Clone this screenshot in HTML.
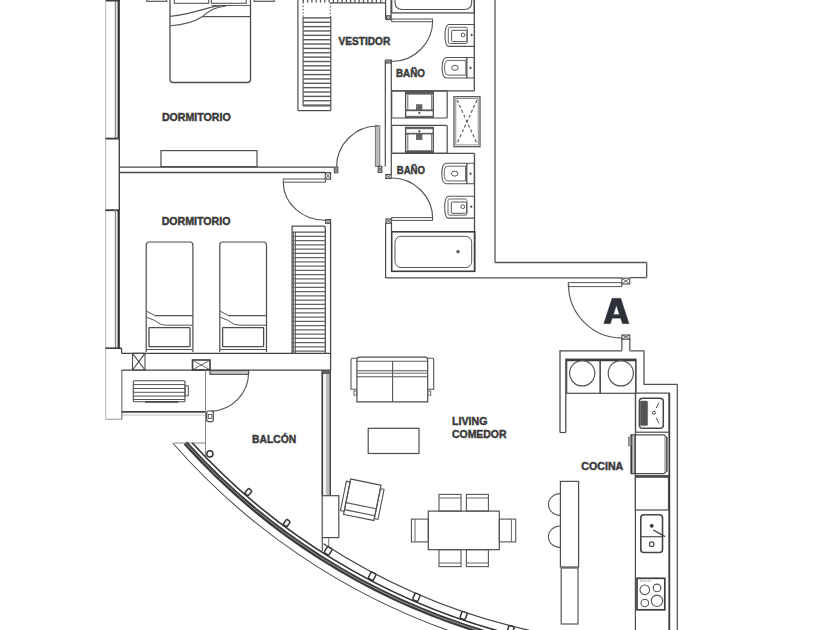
<!DOCTYPE html>
<html><head><meta charset="utf-8"><style>
html,body{margin:0;padding:0;background:#fff;}
body{width:840px;height:630px;overflow:hidden;}
svg{display:block;}
text{font-family:"Liberation Sans",sans-serif;font-weight:bold;}
</style></head><body>
<svg width="840" height="630" viewBox="0 0 840 630" stroke-linecap="butt">
<line x1="105.6" y1="0" x2="105.6" y2="419.3" stroke="#c2c2c2" stroke-width="1.2" />
<line x1="115.5" y1="0" x2="115.5" y2="138.5" stroke="#8a8a8a" stroke-width="1.4" />
<line x1="118.7" y1="0" x2="118.7" y2="138.5" stroke="#333" stroke-width="2.3" />
<line x1="105.6" y1="138.6" x2="119.5" y2="138.6" stroke="#3a3a3a" stroke-width="1.8" />
<line x1="106" y1="0.6" x2="119.8" y2="0.6" stroke="#3a3a3a" stroke-width="1.8" />
<line x1="119.3" y1="138.5" x2="119.3" y2="210" stroke="#444" stroke-width="1.4" />
<line x1="105.6" y1="210.2" x2="119.5" y2="210.2" stroke="#3a3a3a" stroke-width="1.8" />
<line x1="115.5" y1="210" x2="115.5" y2="348.2" stroke="#8a8a8a" stroke-width="1.4" />
<line x1="118.7" y1="210" x2="118.7" y2="348.2" stroke="#333" stroke-width="2.3" />
<line x1="105.6" y1="348.2" x2="121.6" y2="348.2" stroke="#3a3a3a" stroke-width="1.6" />
<line x1="121.6" y1="348.2" x2="121.6" y2="353.3" stroke="#444" stroke-width="1.2" />
<line x1="105.6" y1="419.3" x2="122" y2="419.3" stroke="#aaa" stroke-width="1.2" />
<line x1="121.8" y1="370" x2="121.8" y2="419.3" stroke="#777" stroke-width="1.2" />
<rect x="146.7" y="-3" width="20.0" height="4.3" rx="0" stroke="#555" stroke-width="1.2" fill="none" />
<rect x="254.2" y="-3" width="20.0" height="4.3" rx="0" stroke="#555" stroke-width="1.2" fill="none" />
<path d="M170,-2 L170,79.5 Q170,82.5 173,82.5 L247.5,82.5 Q250.5,82.5 250.5,79.5 L250.5,-2" stroke="#4d4d4d" stroke-width="1.3" fill="none" />
<rect x="174.2" y="-2" width="34.5" height="5.3" rx="0" stroke="#555" stroke-width="1.1" fill="none" />
<rect x="211.3" y="-2" width="34.9" height="5.3" rx="0" stroke="#555" stroke-width="1.1" fill="none" />
<line x1="211.7" y1="5.5" x2="250.5" y2="5.5" stroke="#666" stroke-width="1.0" />
<line x1="202.5" y1="16.7" x2="250.5" y2="16.7" stroke="#555" stroke-width="1.2" />
<path d="M170.5,16.4 C190,14.2 201,9.5 214,6.6 C220,5.6 226,5.4 233,5.5" stroke="#555" stroke-width="1.1" fill="none" />
<path d="M170.5,25.8 C187,24.6 195,21.5 202,16.8 C209,11 215,7 226,6" stroke="#555" stroke-width="1.1" fill="none" />
<rect x="161" y="150.6" width="96" height="16.1" rx="0" stroke="#4d4d4d" stroke-width="1.2" fill="none" />
<line x1="119" y1="167.2" x2="334.4" y2="167.2" stroke="#444" stroke-width="1.3" />
<line x1="119" y1="172.5" x2="325" y2="172.5" stroke="#444" stroke-width="1.3" />
<rect x="334.4" y="167.2" width="3.4" height="5.6" rx="0" stroke="#4a4a4a" stroke-width="1.1" fill="none" />
<line x1="334.4" y1="167.2" x2="337.8" y2="172.8" stroke="#555" stroke-width="0.9" />
<line x1="337.8" y1="167.2" x2="334.4" y2="172.8" stroke="#555" stroke-width="0.9" />
<rect x="325.3" y="172.6" width="5.3" height="6.6" rx="0" stroke="#4a4a4a" stroke-width="1.1" fill="none" />
<line x1="325.3" y1="172.6" x2="330.6" y2="179.2" stroke="#555" stroke-width="0.9" />
<line x1="330.6" y1="172.6" x2="325.3" y2="179.2" stroke="#555" stroke-width="0.9" />
<line x1="297.9" y1="-1" x2="297.9" y2="110.6" stroke="#4d4d4d" stroke-width="1.2" />
<line x1="297.9" y1="110.6" x2="330.8" y2="110.6" stroke="#4d4d4d" stroke-width="1.3" />
<line x1="330.8" y1="17" x2="330.8" y2="110.6" stroke="#4d4d4d" stroke-width="1.2" />
<line x1="303.1" y1="17" x2="303.1" y2="106" stroke="#555" stroke-width="1.2" />
<line x1="303.1" y1="106" x2="330.8" y2="106" stroke="#555" stroke-width="1.1" />
<line x1="303.3" y1="-1" x2="303.3" y2="2.6" stroke="#555" stroke-width="1.3" />
<line x1="307.6" y1="-1" x2="307.6" y2="2.6" stroke="#555" stroke-width="1.3" />
<line x1="311.90000000000003" y1="-1" x2="311.90000000000003" y2="2.6" stroke="#555" stroke-width="1.3" />
<line x1="316.20000000000005" y1="-1" x2="316.20000000000005" y2="2.6" stroke="#555" stroke-width="1.3" />
<line x1="320.50000000000006" y1="-1" x2="320.50000000000006" y2="2.6" stroke="#555" stroke-width="1.3" />
<line x1="324.80000000000007" y1="-1" x2="324.80000000000007" y2="2.6" stroke="#555" stroke-width="1.3" />
<line x1="329.1000000000001" y1="-1" x2="329.1000000000001" y2="2.6" stroke="#555" stroke-width="1.3" />
<line x1="333.4000000000001" y1="-1" x2="333.4000000000001" y2="2.6" stroke="#555" stroke-width="1.3" />
<line x1="337.7000000000001" y1="-1" x2="337.7000000000001" y2="2.6" stroke="#555" stroke-width="1.3" />
<line x1="342.0000000000001" y1="-1" x2="342.0000000000001" y2="2.6" stroke="#555" stroke-width="1.3" />
<line x1="346.3000000000001" y1="-1" x2="346.3000000000001" y2="2.6" stroke="#555" stroke-width="1.3" />
<line x1="350.60000000000014" y1="-1" x2="350.60000000000014" y2="2.6" stroke="#555" stroke-width="1.3" />
<line x1="354.90000000000015" y1="-1" x2="354.90000000000015" y2="2.6" stroke="#555" stroke-width="1.3" />
<line x1="359.20000000000016" y1="-1" x2="359.20000000000016" y2="2.6" stroke="#555" stroke-width="1.3" />
<line x1="363.50000000000017" y1="-1" x2="363.50000000000017" y2="2.6" stroke="#555" stroke-width="1.3" />
<line x1="367.8000000000002" y1="-1" x2="367.8000000000002" y2="2.6" stroke="#555" stroke-width="1.3" />
<line x1="372.1000000000002" y1="-1" x2="372.1000000000002" y2="2.6" stroke="#555" stroke-width="1.3" />
<line x1="376.4000000000002" y1="-1" x2="376.4000000000002" y2="2.6" stroke="#555" stroke-width="1.3" />
<line x1="380.7000000000002" y1="-1" x2="380.7000000000002" y2="2.6" stroke="#555" stroke-width="1.3" />
<line x1="330.2" y1="2.9" x2="385.5" y2="2.9" stroke="#444" stroke-width="1.4" />
<line x1="303.1" y1="17.9" x2="330.8" y2="17.9" stroke="#5a5a5a" stroke-width="1.4" />
<line x1="303.1" y1="22.259999999999998" x2="330.8" y2="22.259999999999998" stroke="#5a5a5a" stroke-width="1.4" />
<line x1="303.1" y1="26.619999999999997" x2="330.8" y2="26.619999999999997" stroke="#5a5a5a" stroke-width="1.4" />
<line x1="303.1" y1="30.979999999999997" x2="330.8" y2="30.979999999999997" stroke="#5a5a5a" stroke-width="1.4" />
<line x1="303.1" y1="35.339999999999996" x2="330.8" y2="35.339999999999996" stroke="#5a5a5a" stroke-width="1.4" />
<line x1="303.1" y1="39.699999999999996" x2="330.8" y2="39.699999999999996" stroke="#5a5a5a" stroke-width="1.4" />
<line x1="303.1" y1="44.059999999999995" x2="330.8" y2="44.059999999999995" stroke="#5a5a5a" stroke-width="1.4" />
<line x1="303.1" y1="48.419999999999995" x2="330.8" y2="48.419999999999995" stroke="#5a5a5a" stroke-width="1.4" />
<line x1="303.1" y1="52.779999999999994" x2="330.8" y2="52.779999999999994" stroke="#5a5a5a" stroke-width="1.4" />
<line x1="303.1" y1="57.13999999999999" x2="330.8" y2="57.13999999999999" stroke="#5a5a5a" stroke-width="1.4" />
<line x1="303.1" y1="61.49999999999999" x2="330.8" y2="61.49999999999999" stroke="#5a5a5a" stroke-width="1.4" />
<line x1="303.1" y1="65.86" x2="330.8" y2="65.86" stroke="#5a5a5a" stroke-width="1.4" />
<line x1="303.1" y1="70.22" x2="330.8" y2="70.22" stroke="#5a5a5a" stroke-width="1.4" />
<line x1="303.1" y1="74.58" x2="330.8" y2="74.58" stroke="#5a5a5a" stroke-width="1.4" />
<line x1="303.1" y1="78.94" x2="330.8" y2="78.94" stroke="#5a5a5a" stroke-width="1.4" />
<line x1="303.1" y1="83.3" x2="330.8" y2="83.3" stroke="#5a5a5a" stroke-width="1.4" />
<line x1="303.1" y1="87.66" x2="330.8" y2="87.66" stroke="#5a5a5a" stroke-width="1.4" />
<line x1="303.1" y1="92.02" x2="330.8" y2="92.02" stroke="#5a5a5a" stroke-width="1.4" />
<line x1="303.1" y1="96.38" x2="330.8" y2="96.38" stroke="#5a5a5a" stroke-width="1.4" />
<line x1="303.1" y1="100.74" x2="330.8" y2="100.74" stroke="#5a5a5a" stroke-width="1.4" />
<line x1="303.1" y1="105.1" x2="330.8" y2="105.1" stroke="#5a5a5a" stroke-width="1.4" />
<line x1="303.1" y1="-1" x2="303.1" y2="17" stroke="#555" stroke-width="1.2" stroke-dasharray="1.3,2"/>
<line x1="330.4" y1="2.9" x2="330.4" y2="17" stroke="#555" stroke-width="1.2" stroke-dasharray="1.3,2"/>
<line x1="385.6" y1="-1" x2="385.6" y2="19.6" stroke="#4d4d4d" stroke-width="1.2" />
<line x1="391" y1="-1" x2="391" y2="19.6" stroke="#4d4d4d" stroke-width="1.2" />
<rect x="386.3" y="15.8" width="4.5" height="3.8" rx="0" stroke="#4a4a4a" stroke-width="1.1" fill="none" />
<line x1="386.3" y1="15.8" x2="390.8" y2="19.6" stroke="#555" stroke-width="0.9" />
<line x1="390.8" y1="15.8" x2="386.3" y2="19.6" stroke="#555" stroke-width="0.9" />
<rect x="391.7" y="19" width="40.8" height="2.7" rx="0" stroke="#555" stroke-width="1.0" fill="none" />
<path d="M432.70,20.50 A41,41 0 0 1 391.70,61.50" stroke="#555" stroke-width="1.15" fill="none" />
<line x1="385.3" y1="60" x2="385.3" y2="166.5" stroke="#4d4d4d" stroke-width="1.2" />
<line x1="391.3" y1="60" x2="391.3" y2="175" stroke="#4d4d4d" stroke-width="1.2" />
<rect x="386" y="60" width="5" height="3" rx="0" stroke="#4a4a4a" stroke-width="1.1" fill="none" />
<line x1="386" y1="60" x2="391" y2="63" stroke="#555" stroke-width="0.9" />
<line x1="391" y1="60" x2="386" y2="63" stroke="#555" stroke-width="0.9" />
<rect x="385.8" y="174.5" width="5.4" height="4.0" rx="0" stroke="#4a4a4a" stroke-width="1.1" fill="none" />
<line x1="385.8" y1="174.5" x2="391.2" y2="178.5" stroke="#555" stroke-width="0.9" />
<line x1="391.2" y1="174.5" x2="385.8" y2="178.5" stroke="#555" stroke-width="0.9" />
<rect x="375.4" y="125.7" width="4.4" height="40.7" rx="0" stroke="#777" stroke-width="1.0" fill="#bbb" />
<path d="M336.60,167.00 A41,41 0 0 1 377.60,126.00" stroke="#555" stroke-width="1.15" fill="none" />
<rect x="378.2" y="166.4" width="3.6" height="6.0" rx="0" stroke="#4a4a4a" stroke-width="1.1" fill="none" />
<line x1="378.2" y1="166.4" x2="381.8" y2="172.4" stroke="#555" stroke-width="0.9" />
<line x1="381.8" y1="166.4" x2="378.2" y2="172.4" stroke="#555" stroke-width="0.9" />
<rect x="391.7" y="-3" width="82.6" height="15.9" rx="0" stroke="#4d4d4d" stroke-width="1.3" fill="none" />
<path d="M395,-2 L395,2 Q395,9.5 402.5,9.5 L464.2,9.5 Q471.7,9.5 471.7,2 L471.7,-2" stroke="#555" stroke-width="1.1" fill="none" />
<line x1="474.3" y1="-1" x2="474.3" y2="90.8" stroke="#4d4d4d" stroke-width="1.3" />
<line x1="391.7" y1="90.8" x2="474.3" y2="90.8" stroke="#4d4d4d" stroke-width="1.3" />
<line x1="495" y1="-1" x2="495" y2="262.5" stroke="#555" stroke-width="1.3" />
<path d="M448.5,24.5 L474.5,24.5 L474.5,46.4 L448.5,46.4 Q445,45.4 445,35.45 Q445,25.5 448.5,24.5 Z" stroke="#555" stroke-width="1.1" fill="none" />
<rect x="448.3" y="27.3" width="19.0" height="16.2" rx="1.5" stroke="#666" stroke-width="1.0" fill="none" />
<rect x="451.6" y="30.3" width="15.3" height="11.3" rx="1" stroke="#555" stroke-width="1.0" fill="none" />
<circle cx="463.1" cy="35.0" r="1.9" stroke="#555" stroke-width="1.0" fill="none"/>
<circle cx="471.6" cy="35.0" r="0.8" stroke="#333" stroke-width="0.6" fill="#333"/>
<path d="M446.6,57.5 L466.7,57.5 L466.7,78.0 L446.6,78.0 Q442.1,77.5 442.1,67.75 Q442.1,58.0 446.6,57.5 Z" stroke="#555" stroke-width="1.1" fill="none" />
<rect x="466.7" y="57.5" width="7.6" height="20.5" rx="1.2" stroke="#555" stroke-width="1.1" fill="none" />
<path d="M447.6,60.4 L465.90000000000003,60.4 L465.90000000000003,75.1 L447.6,75.1 Q444.5,74.5 444.5,67.75 Q444.5,61.0 447.6,60.4 Z" stroke="#666" stroke-width="1.0" fill="none" />
<ellipse cx="455.0" cy="67.8" rx="3.3" ry="2.5" stroke="#555" stroke-width="1.0" fill="none"/>
<circle cx="470.5" cy="67.9" r="0.8" stroke="#333" stroke-width="0.6" fill="#333"/>
<rect x="391.7" y="90.8" width="55.5" height="27.2" rx="1" stroke="#4d4d4d" stroke-width="1.2" fill="none" />
<rect x="405.6" y="91.9" width="27.7" height="25.5" rx="0" stroke="#4d4d4d" stroke-width="1.3" fill="none" />
<line x1="405.6" y1="93" x2="433.3" y2="93" stroke="#555" stroke-width="2.2" />
<rect x="407.8" y="94.1" width="23.9" height="16.1" rx="0" stroke="#666" stroke-width="1.0" fill="none" />
<line x1="405.6" y1="110.4" x2="433.3" y2="110.4" stroke="#555" stroke-width="1.6" />
<rect x="416.3" y="104.7" width="5.7" height="5.5" rx="0" stroke="#555" stroke-width="0.6" fill="#666" />
<circle cx="419.4" cy="113" r="0.8" stroke="#333" stroke-width="0.6" fill="#333"/>
<line x1="405.6" y1="116.6" x2="433.3" y2="116.6" stroke="#666" stroke-width="1.6" />
<rect x="391.7" y="125.4" width="55.5" height="28.0" rx="1" stroke="#4d4d4d" stroke-width="1.2" fill="none" />
<rect x="405.6" y="127.4" width="27.7" height="25.6" rx="0" stroke="#4d4d4d" stroke-width="1.3" fill="none" />
<line x1="405.6" y1="128.4" x2="433.3" y2="128.4" stroke="#666" stroke-width="1.6" />
<line x1="405.6" y1="133.6" x2="433.3" y2="133.6" stroke="#555" stroke-width="1.6" />
<rect x="407.8" y="133.6" width="23.9" height="17.2" rx="0" stroke="#666" stroke-width="1.0" fill="none" />
<line x1="405.6" y1="151.9" x2="433.3" y2="151.9" stroke="#555" stroke-width="2.2" />
<rect x="416.3" y="134" width="5.7" height="5.7" rx="0" stroke="#555" stroke-width="0.6" fill="#666" />
<circle cx="419.4" cy="131.3" r="0.8" stroke="#333" stroke-width="0.6" fill="#333"/>
<rect x="454" y="96.7" width="26" height="50.0" rx="0" stroke="#4d4d4d" stroke-width="1.2" fill="none" />
<rect x="455.8" y="98.5" width="22.4" height="46.4" rx="0" stroke="#777" stroke-width="0.8" fill="none" />
<line x1="457" y1="100" x2="477" y2="143.5" stroke="#555" stroke-width="1.1" stroke-dasharray="3.2,2.2"/>
<line x1="477" y1="100" x2="457" y2="143.5" stroke="#555" stroke-width="1.1" stroke-dasharray="3.2,2.2"/>
<line x1="391.7" y1="153.4" x2="474.5" y2="153.4" stroke="#4d4d4d" stroke-width="1.3" />
<line x1="474.5" y1="153.4" x2="474.5" y2="271.3" stroke="#4d4d4d" stroke-width="1.3" />
<path d="M446.3,163.3 L466.7,163.3 L466.7,183.8 L446.3,183.8 Q441.8,183.3 441.8,173.55 Q441.8,163.8 446.3,163.3 Z" stroke="#555" stroke-width="1.1" fill="none" />
<rect x="466.7" y="163.3" width="7.6" height="20.5" rx="1.2" stroke="#555" stroke-width="1.1" fill="none" />
<path d="M447.3,166.20000000000002 L465.6,166.20000000000002 L465.6,180.9 L447.3,180.9 Q444.2,180.3 444.2,173.55 Q444.2,166.8 447.3,166.20000000000002 Z" stroke="#666" stroke-width="1.0" fill="none" />
<ellipse cx="454.7" cy="173.60000000000002" rx="3.3" ry="2.5" stroke="#555" stroke-width="1.0" fill="none"/>
<circle cx="470.5" cy="173.70000000000002" r="0.8" stroke="#333" stroke-width="0.6" fill="#333"/>
<path d="M448.2,196.2 L474.5,196.2 L474.5,218.1 L448.2,218.1 Q444.7,217.1 444.7,207.14999999999998 Q444.7,197.2 448.2,196.2 Z" stroke="#555" stroke-width="1.1" fill="none" />
<rect x="448.0" y="199.0" width="19.0" height="16.2" rx="1.5" stroke="#666" stroke-width="1.0" fill="none" />
<rect x="451.3" y="202.0" width="15.3" height="11.3" rx="1" stroke="#555" stroke-width="1.0" fill="none" />
<circle cx="462.8" cy="206.7" r="1.9" stroke="#555" stroke-width="1.0" fill="none"/>
<circle cx="471.3" cy="206.7" r="0.8" stroke="#333" stroke-width="0.6" fill="#333"/>
<rect x="391.7" y="217.6" width="40.8" height="2.8" rx="0" stroke="#555" stroke-width="1.0" fill="none" />
<path d="M391.70,178.00 A41,41 0 0 1 432.70,219.00" stroke="#555" stroke-width="1.15" fill="none" />
<rect x="386" y="219" width="5.3" height="4.2" rx="0" stroke="#4a4a4a" stroke-width="1.1" fill="none" />
<line x1="386" y1="219" x2="391.3" y2="223.2" stroke="#555" stroke-width="0.9" />
<line x1="391.3" y1="219" x2="386" y2="223.2" stroke="#555" stroke-width="0.9" />
<line x1="385.6" y1="223" x2="385.6" y2="278" stroke="#4d4d4d" stroke-width="1.2" />
<line x1="391.5" y1="223" x2="391.5" y2="231.7" stroke="#4d4d4d" stroke-width="1.2" />
<rect x="391.7" y="231.8" width="83.0" height="39.5" rx="0" stroke="#3d3d3d" stroke-width="1.6" fill="none" />
<rect x="395" y="236.3" width="76.7" height="31.2" rx="6" stroke="#555" stroke-width="1.0" fill="none" />
<circle cx="458" cy="251.7" r="1.4" stroke="#555" stroke-width="0.6" fill="#555"/>
<line x1="385.6" y1="277.8" x2="622" y2="277.8" stroke="#4d4d4d" stroke-width="1.3" />
<line x1="495" y1="262.5" x2="646.7" y2="262.5" stroke="#555" stroke-width="1.3" />
<line x1="646.7" y1="262.5" x2="646.7" y2="277.6" stroke="#555" stroke-width="1.3" />
<line x1="630" y1="277.6" x2="646.7" y2="277.6" stroke="#555" stroke-width="1.3" />
<rect x="621.9" y="278.2" width="7.9" height="5.8" rx="0" stroke="#4a4a4a" stroke-width="1.1" fill="none" />
<line x1="621.9" y1="278.2" x2="629.8" y2="284" stroke="#555" stroke-width="0.9" />
<line x1="629.8" y1="278.2" x2="621.9" y2="284" stroke="#555" stroke-width="0.9" />
<rect x="568.3" y="282.6" width="53.4" height="4.0" rx="0" stroke="#555" stroke-width="1.0" fill="none" />
<path d="M568.50,284.50 A53.4,53.4 0 0 0 621.99,337.90" stroke="#555" stroke-width="1.15" fill="none" />
<rect x="621.9" y="335" width="7.9" height="4.2" rx="0" stroke="#4a4a4a" stroke-width="1.1" fill="none" />
<line x1="621.9" y1="335" x2="629.8" y2="339.2" stroke="#555" stroke-width="0.9" />
<line x1="629.8" y1="335" x2="621.9" y2="339.2" stroke="#555" stroke-width="0.9" />
<line x1="621.9" y1="339" x2="621.9" y2="350.8" stroke="#4d4d4d" stroke-width="1.2" />
<line x1="629.8" y1="339" x2="629.8" y2="350.8" stroke="#4d4d4d" stroke-width="1.2" />
<path d="M560,432.5 L560,350.8 L621.9,350.8" stroke="#4d4d4d" stroke-width="1.3" fill="none" />
<path d="M629.8,350.8 L644,350.8 L644,384.4 L677.3,384.4 L677.3,631" stroke="#555" stroke-width="1.3" fill="none" />
<path d="M565.8,432.5 L565.8,359.2 L635.8,359.2 L635.8,393.3" stroke="#4d4d4d" stroke-width="1.3" fill="none" />
<line x1="560" y1="432.5" x2="565.8" y2="432.5" stroke="#4d4d4d" stroke-width="1.2" />
<rect x="566.7" y="360" width="33.5" height="33.3" rx="0" stroke="#4d4d4d" stroke-width="1.2" fill="none" />
<rect x="600.2" y="360" width="35.6" height="33.3" rx="0" stroke="#4d4d4d" stroke-width="1.2" fill="none" />
<line x1="566.5" y1="360.3" x2="635.8" y2="360.3" stroke="#3a3a3a" stroke-width="2.0" />
<circle cx="582.2" cy="373.3" r="12.6" stroke="#555" stroke-width="1.2" fill="none"/>
<circle cx="620.8" cy="373.3" r="12.6" stroke="#555" stroke-width="1.2" fill="none"/>
<line x1="635.4" y1="393" x2="635.4" y2="631" stroke="#4d4d4d" stroke-width="1.2" />
<line x1="669.3" y1="393" x2="669.3" y2="631" stroke="#3a3a3a" stroke-width="1.8" />
<rect x="635.6" y="393.1" width="33.7" height="39.1" rx="0" stroke="#4d4d4d" stroke-width="1.2" fill="none" />
<rect x="639.4" y="398.3" width="23.9" height="30.0" rx="3.3" stroke="#444" stroke-width="1.5" fill="none" />
<rect x="640.3" y="401.1" width="7.3" height="24.5" rx="1.2" stroke="#555" stroke-width="0.5" fill="#555" />
<circle cx="653.9" cy="412.8" r="1.5" stroke="#444" stroke-width="1.0" fill="none"/>
<line x1="656.1" y1="408.3" x2="658.9" y2="402.8" stroke="#555" stroke-width="1.0" />
<line x1="656.1" y1="417.8" x2="658.9" y2="423.3" stroke="#555" stroke-width="1.0" />
<rect x="664.2" y="437" width="4.3" height="34.5" fill="#b0b0b0"/>
<path d="M631,434.8 L663.9,434.8 L666.8,437.6 L666.8,470.9 L663.9,473.7 L631,473.7 Z" stroke="#4d4d4d" stroke-width="1.2" fill="none" />
<line x1="631.7" y1="434.8" x2="631.7" y2="473.7" stroke="#3a3a3a" stroke-width="1.6" />
<line x1="634.2" y1="434.8" x2="634.2" y2="473.7" stroke="#555" stroke-width="1.1" />
<rect x="628.3" y="437.1" width="2.7" height="8.8" rx="0" stroke="#777" stroke-width="0.7" fill="#a0a0a0" />
<rect x="635.4" y="475.8" width="33.1" height="34.2" rx="0" stroke="#4d4d4d" stroke-width="1.2" fill="none" />
<line x1="635.4" y1="476.6" x2="668.5" y2="476.6" stroke="#444" stroke-width="2.2" />
<rect x="640.8" y="514.7" width="21.7" height="37.8" rx="3" stroke="#444" stroke-width="1.6" fill="none" />
<line x1="640.8" y1="536.7" x2="662.5" y2="536.7" stroke="#555" stroke-width="1.2" />
<circle cx="651.7" cy="525.8" r="1.6" stroke="#333" stroke-width="0.6" fill="#333"/>
<circle cx="651.7" cy="544.2" r="2.3" stroke="#444" stroke-width="1.1" fill="none"/>
<line x1="653.3" y1="530" x2="665" y2="536.7" stroke="#444" stroke-width="1.4" />
<rect x="637" y="578.3" width="27.8" height="31.5" rx="0" stroke="#3d3d3d" stroke-width="1.7" fill="none" />
<line x1="640" y1="581" x2="651" y2="581" stroke="#666" stroke-width="0.8" stroke-dasharray="1,0.6"/>
<circle cx="644.8" cy="589.8" r="4.8" stroke="#555" stroke-width="1.1" fill="none"/>
<circle cx="657" cy="587.9" r="3.8" stroke="#555" stroke-width="1.1" fill="none"/>
<circle cx="644.8" cy="603" r="3.8" stroke="#555" stroke-width="1.1" fill="none"/>
<circle cx="657" cy="600.8" r="5.7" stroke="#555" stroke-width="1.1" fill="none"/>
<rect x="560.4" y="481.4" width="18.2" height="85.6" rx="0" stroke="#4d4d4d" stroke-width="1.2" fill="none" />
<rect x="561.2" y="568" width="16.8" height="56" rx="0" stroke="#555" stroke-width="1.2" fill="none" />
<path d="M560.4,493.6 A12,10.9 0 0 0 560.4,515.4" stroke="#555" stroke-width="1.1" fill="none" />
<path d="M560.4,526 A12,10.8 0 0 0 560.4,547.6" stroke="#555" stroke-width="1.1" fill="none" />
<path d="M146.2,352 L146.2,245 Q146.2,242 149.2,242 L189.89999999999998,242 Q192.89999999999998,242 192.89999999999998,245 L192.89999999999998,352" stroke="#4d4d4d" stroke-width="1.2" fill="none" />
<line x1="155.7" y1="315.7" x2="192.89999999999998" y2="315.7" stroke="#555" stroke-width="1.2" />
<path d="M146.2,311 Q151.2,313.5 156.2,316.2" stroke="#555" stroke-width="1.0" fill="none" />
<path d="M146.2,317.1 Q155.2,320 160.2,324 Q163.2,325.2 167.6,325.2 L192.89999999999998,325.2" stroke="#555" stroke-width="1.0" fill="none" />
<rect x="149.0" y="327.6" width="41.0" height="19.1" rx="0.5" stroke="#4d4d4d" stroke-width="1.3" fill="none" />
<line x1="146.2" y1="349.5" x2="192.89999999999998" y2="349.5" stroke="#555" stroke-width="1.1" />
<path d="M219.8,352 L219.8,245 Q219.8,242 222.8,242 L263.5,242 Q266.5,242 266.5,245 L266.5,352" stroke="#4d4d4d" stroke-width="1.2" fill="none" />
<line x1="229.3" y1="315.7" x2="266.5" y2="315.7" stroke="#555" stroke-width="1.2" />
<path d="M219.8,311 Q224.8,313.5 229.8,316.2" stroke="#555" stroke-width="1.0" fill="none" />
<path d="M219.8,317.1 Q228.8,320 233.8,324 Q236.8,325.2 241.20000000000002,325.2 L266.5,325.2" stroke="#555" stroke-width="1.0" fill="none" />
<rect x="222.60000000000002" y="327.6" width="41.0" height="19.1" rx="0.5" stroke="#4d4d4d" stroke-width="1.3" fill="none" />
<line x1="219.8" y1="349.5" x2="266.5" y2="349.5" stroke="#555" stroke-width="1.1" />
<path d="M292.1,353.3 L292.1,226.1 L323.8,226.1 Q325.3,226.1 325.3,227.6 L325.3,353.3" stroke="#4d4d4d" stroke-width="1.3" fill="none" />
<line x1="293.6" y1="232.1" x2="293.6" y2="353.3" stroke="#555" stroke-width="1.0" />
<line x1="295.4" y1="232.1" x2="295.4" y2="353.3" stroke="#555" stroke-width="1.0" />
<line x1="292.1" y1="232.1" x2="325.3" y2="232.1" stroke="#555" stroke-width="1.2" />
<line x1="292.1" y1="236.4" x2="325.3" y2="236.4" stroke="#666" stroke-width="1.2" />
<line x1="292.1" y1="240.65" x2="325.3" y2="240.65" stroke="#666" stroke-width="1.2" />
<line x1="292.1" y1="244.9" x2="325.3" y2="244.9" stroke="#666" stroke-width="1.2" />
<line x1="292.1" y1="249.15" x2="325.3" y2="249.15" stroke="#666" stroke-width="1.2" />
<line x1="292.1" y1="253.4" x2="325.3" y2="253.4" stroke="#666" stroke-width="1.2" />
<line x1="292.1" y1="257.65" x2="325.3" y2="257.65" stroke="#666" stroke-width="1.2" />
<line x1="292.1" y1="261.9" x2="325.3" y2="261.9" stroke="#666" stroke-width="1.2" />
<line x1="292.1" y1="266.15" x2="325.3" y2="266.15" stroke="#666" stroke-width="1.2" />
<line x1="292.1" y1="270.4" x2="325.3" y2="270.4" stroke="#666" stroke-width="1.2" />
<line x1="292.1" y1="274.65" x2="325.3" y2="274.65" stroke="#666" stroke-width="1.2" />
<line x1="292.1" y1="278.9" x2="325.3" y2="278.9" stroke="#666" stroke-width="1.2" />
<line x1="292.1" y1="283.15" x2="325.3" y2="283.15" stroke="#666" stroke-width="1.2" />
<line x1="292.1" y1="287.4" x2="325.3" y2="287.4" stroke="#666" stroke-width="1.2" />
<line x1="292.1" y1="291.65" x2="325.3" y2="291.65" stroke="#666" stroke-width="1.2" />
<line x1="292.1" y1="295.9" x2="325.3" y2="295.9" stroke="#666" stroke-width="1.2" />
<line x1="292.1" y1="300.15" x2="325.3" y2="300.15" stroke="#666" stroke-width="1.2" />
<line x1="292.1" y1="304.4" x2="325.3" y2="304.4" stroke="#666" stroke-width="1.2" />
<line x1="292.1" y1="308.65" x2="325.3" y2="308.65" stroke="#666" stroke-width="1.2" />
<line x1="292.1" y1="312.9" x2="325.3" y2="312.9" stroke="#666" stroke-width="1.2" />
<line x1="292.1" y1="317.15" x2="325.3" y2="317.15" stroke="#666" stroke-width="1.2" />
<line x1="292.1" y1="321.4" x2="325.3" y2="321.4" stroke="#666" stroke-width="1.2" />
<line x1="292.1" y1="325.65" x2="325.3" y2="325.65" stroke="#666" stroke-width="1.2" />
<line x1="292.1" y1="329.9" x2="325.3" y2="329.9" stroke="#666" stroke-width="1.2" />
<line x1="292.1" y1="334.15" x2="325.3" y2="334.15" stroke="#666" stroke-width="1.2" />
<line x1="292.1" y1="338.4" x2="325.3" y2="338.4" stroke="#666" stroke-width="1.2" />
<line x1="292.1" y1="342.65" x2="325.3" y2="342.65" stroke="#666" stroke-width="1.2" />
<line x1="292.1" y1="346.9" x2="325.3" y2="346.9" stroke="#666" stroke-width="1.2" />
<line x1="292.1" y1="351.15" x2="325.3" y2="351.15" stroke="#666" stroke-width="1.2" />
<line x1="330.6" y1="223" x2="330.6" y2="370.6" stroke="#4d4d4d" stroke-width="1.3" />
<rect x="325.6" y="219.6" width="5.0" height="3.7" rx="0" stroke="#4a4a4a" stroke-width="1.1" fill="none" />
<line x1="325.6" y1="219.6" x2="330.6" y2="223.3" stroke="#555" stroke-width="0.9" />
<line x1="330.6" y1="219.6" x2="325.6" y2="223.3" stroke="#555" stroke-width="0.9" />
<rect x="283.3" y="179" width="42.0" height="3.2" rx="0" stroke="#555" stroke-width="1.0" fill="none" />
<path d="M283.3,182.2 A42,38 0 0 0 325.3,220.2" stroke="#555" stroke-width="1.15" fill="none" />
<line x1="121.6" y1="353.3" x2="330.6" y2="353.3" stroke="#444" stroke-width="1.3" />
<line x1="121.7" y1="370.1" x2="330.6" y2="370.1" stroke="#444" stroke-width="1.3" />
<rect x="132.5" y="353.3" width="12.5" height="16.7" rx="0" stroke="#4d4d4d" stroke-width="1.1" fill="none" />
<line x1="132.5" y1="353.3" x2="145" y2="370" stroke="#444" stroke-width="1.1" />
<line x1="145" y1="353.3" x2="132.5" y2="370" stroke="#444" stroke-width="1.1" />
<rect x="192.5" y="360" width="17.5" height="10" rx="0" stroke="#3d3d3d" stroke-width="1.6" fill="none" />
<line x1="193" y1="360.5" x2="209.5" y2="369.5" stroke="#555" stroke-width="0.9" />
<line x1="209.5" y1="360.5" x2="193" y2="369.5" stroke="#555" stroke-width="0.9" />
<line x1="121.7" y1="411.8" x2="205.7" y2="411.8" stroke="#444" stroke-width="1.8" />
<line x1="122" y1="415" x2="205.7" y2="415" stroke="#c0c0c0" stroke-width="1.0" />
<line x1="205.5" y1="370" x2="205.5" y2="456.5" stroke="#888" stroke-width="1.0" />
<rect x="133.3" y="380.8" width="51.7" height="20.9" rx="1" stroke="#4d4d4d" stroke-width="1.1" fill="none" />
<line x1="133.3" y1="384.6" x2="185" y2="384.6" stroke="#555" stroke-width="1.0" />
<line x1="133.3" y1="388.5" x2="185" y2="388.5" stroke="#555" stroke-width="1.0" />
<line x1="133.3" y1="392.3" x2="185" y2="392.3" stroke="#555" stroke-width="1.0" />
<line x1="133.3" y1="396.1" x2="185" y2="396.1" stroke="#555" stroke-width="1.0" />
<line x1="133.3" y1="399.5" x2="185" y2="399.5" stroke="#555" stroke-width="1.0" />
<rect x="185" y="385.8" width="3.3" height="10.0" rx="0" stroke="#555" stroke-width="1.0" fill="none" />
<line x1="145" y1="401.9" x2="178.3" y2="401.9" stroke="#444" stroke-width="1.8" />
<rect x="210" y="370.6" width="38.6" height="3.7" rx="0" stroke="#444" stroke-width="1.1" fill="#ccc" />
<path d="M248.60,372.50 A38.6,38.6 0 0 1 211.35,411.08" stroke="#555" stroke-width="1.15" fill="none" />
<rect x="206.7" y="411" width="6.6" height="10.7" rx="1.5" stroke="#444" stroke-width="1.2" fill="none" />
<rect x="208.3" y="414.5" width="3.5" height="4.0" rx="0" stroke="#444" stroke-width="0.8" fill="none" />
<rect x="325.7" y="370.6" width="3.6" height="125.1" fill="#bcbcbc"/>
<line x1="322.3" y1="370.6" x2="322.3" y2="495.7" stroke="#3a3a3a" stroke-width="1.7" />
<line x1="330.2" y1="370.6" x2="330.2" y2="495.7" stroke="#3d3d3d" stroke-width="1.5" />
<rect x="322.3" y="370.7" width="7.9" height="2.7" rx="0" stroke="#444" stroke-width="0.8" fill="#666" />
<rect x="322.2" y="495.7" width="16.6" height="41.9" rx="0" stroke="#4d4d4d" stroke-width="1.2" fill="none" />
<line x1="322.3" y1="537.6" x2="322.3" y2="551" stroke="#555" stroke-width="1.2" />
<line x1="328.7" y1="537.6" x2="328.7" y2="549" stroke="#777" stroke-width="1.0" />
<line x1="174.3" y1="443" x2="205.3" y2="443" stroke="#888" stroke-width="1.0" />
<path d="M172.69,443.00 A661.7,661.7 0 0 0 452.53,632" stroke="#4d4d4d" stroke-width="1.1" fill="none" />
<path d="M192.40,443.00 A647.0,647.0 0 0 0 502.30,632" stroke="#333" stroke-width="1.6" fill="none" />
<path d="M185.39,443.00 A652.2,652.2 0 0 0 483.31,632" stroke="#3a3a3a" stroke-width="4.8" fill="none" />
<path d="M185.39,443.00 A652.2,652.2 0 0 0 483.31,632" stroke="#9a9a9a" stroke-width="1.0" fill="none" />
<path d="M323.50,543.63 A638.9,638.9 0 0 0 536.75,632" stroke="#444" stroke-width="1.2" fill="none" />
<circle cx="209.9" cy="453.9" r="3.1" stroke="#333" stroke-width="1.4" fill="#fff"/>
<g transform="translate(248.30,492.10) rotate(41.07)"><rect x="-2.3" y="-3.2" width="4.6" height="6.4" rx="1.3" fill="#fff" stroke="#333" stroke-width="1.5"/></g>
<g transform="translate(286.70,523.05) rotate(36.67)"><rect x="-2.3" y="-3.2" width="4.6" height="6.4" rx="1.3" fill="#fff" stroke="#333" stroke-width="1.5"/></g>
<g transform="translate(328.20,550.90) rotate(32.21)"><rect x="-2.8" y="-3.6" width="5.6" height="7.2" rx="1.3" fill="#fff" stroke="#333" stroke-width="1.5"/></g>
<g transform="translate(372.20,576.25) rotate(27.68)"><rect x="-2.8" y="-3.6" width="5.6" height="7.2" rx="1.3" fill="#fff" stroke="#333" stroke-width="1.5"/></g>
<g transform="translate(416.40,597.33) rotate(23.32)"><rect x="-2.8" y="-3.6" width="5.6" height="7.2" rx="1.3" fill="#fff" stroke="#333" stroke-width="1.5"/></g>
<g transform="translate(463.60,615.51) rotate(18.80)"><rect x="-2.8" y="-3.6" width="5.6" height="7.2" rx="1.3" fill="#fff" stroke="#333" stroke-width="1.5"/></g>
<g transform="translate(510.70,629.56) rotate(14.42)"><rect x="-2.8" y="-3.6" width="5.6" height="7.2" rx="1.3" fill="#fff" stroke="#333" stroke-width="1.5"/></g>
<path d="M356.9,401.8 L356.9,359.5 Q356.9,357.1 359.5,357.1 L425,357.1 Q427.7,357.1 427.7,359.5 L427.7,401.8 Z" stroke="#4d4d4d" stroke-width="1.2" fill="none" />
<line x1="356.9" y1="361.3" x2="427.7" y2="361.3" stroke="#555" stroke-width="1.1" />
<line x1="356.9" y1="370.8" x2="427.7" y2="370.8" stroke="#555" stroke-width="1.1" />
<line x1="356.9" y1="373.2" x2="427.7" y2="373.2" stroke="#666" stroke-width="1.0" />
<line x1="356.9" y1="376.8" x2="427.7" y2="376.8" stroke="#555" stroke-width="1.1" />
<line x1="392.6" y1="361.3" x2="392.6" y2="401.8" stroke="#555" stroke-width="1.1" />
<path d="M356.9,358.3 L352.5,358.3 Q351,358.3 351,360 L351,389.3 L356.9,389.3" stroke="#555" stroke-width="1.1" fill="none" />
<rect x="353.9" y="391" width="3.0" height="4.2" rx="0" stroke="#666" stroke-width="1.0" fill="none" />
<path d="M427.7,358.3 L432.2,358.3 Q433.7,358.3 433.7,360 L433.7,389.3 L427.7,389.3" stroke="#555" stroke-width="1.1" fill="none" />
<rect x="427.7" y="391" width="3.0" height="4.2" rx="0" stroke="#666" stroke-width="1.0" fill="none" />
<rect x="368.2" y="428.3" width="50.8" height="25.2" rx="0" stroke="#4d4d4d" stroke-width="1.2" fill="none" />
<g transform="translate(362.3,499.8) rotate(11.5)"><rect x="-15.5" y="-18" width="31" height="36" fill="none" stroke="#4d4d4d" stroke-width="1.2"/><rect x="-19.3" y="-15" width="3.8" height="30" fill="none" stroke="#555" stroke-width="1.1"/><rect x="15.5" y="-14.5" width="3.8" height="30.5" fill="none" stroke="#555" stroke-width="1.1"/><line x1="-15.5" y1="6" x2="15.5" y2="6" stroke="#555" stroke-width="1.1"/><line x1="-15.5" y1="13.2" x2="15.5" y2="13.2" stroke="#555" stroke-width="1.1"/></g>
<rect x="428.3" y="511.1" width="71.0" height="38.6" rx="0" stroke="#4d4d4d" stroke-width="1.2" fill="none" />
<rect x="439" y="494.4" width="22" height="16.7" rx="0" stroke="#555" stroke-width="1.1" fill="none" />
<line x1="439" y1="498" x2="461" y2="498" stroke="#666" stroke-width="1.0" />
<rect x="439" y="549.7" width="22" height="16.9" rx="0" stroke="#555" stroke-width="1.1" fill="none" />
<line x1="439" y1="563" x2="461" y2="563" stroke="#666" stroke-width="1.0" />
<rect x="466.4" y="494.4" width="22.0" height="16.7" rx="0" stroke="#555" stroke-width="1.1" fill="none" />
<line x1="466.4" y1="498" x2="488.4" y2="498" stroke="#666" stroke-width="1.0" />
<rect x="466.4" y="549.7" width="22.0" height="16.9" rx="0" stroke="#555" stroke-width="1.1" fill="none" />
<line x1="466.4" y1="563" x2="488.4" y2="563" stroke="#666" stroke-width="1.0" />
<rect x="411.4" y="519.1" width="16.9" height="22.8" rx="0" stroke="#555" stroke-width="1.1" fill="none" />
<line x1="415" y1="519.1" x2="415" y2="541.9" stroke="#666" stroke-width="1.0" />
<rect x="499.3" y="519.1" width="16.4" height="22.8" rx="0" stroke="#555" stroke-width="1.1" fill="none" />
<line x1="511.4" y1="519.1" x2="511.4" y2="541.9" stroke="#666" stroke-width="1.0" />
<text x="161.9" y="120.8" font-size="10.5" fill="#3a3a3a" stroke="#3a3a3a" stroke-width="0.45" textLength="68.8" lengthAdjust="spacingAndGlyphs">DORMITORIO</text>
<text x="338.5" y="44.6" font-size="10.5" fill="#3a3a3a" stroke="#3a3a3a" stroke-width="0.45" textLength="51.7" lengthAdjust="spacingAndGlyphs">VESTIDOR</text>
<text x="396" y="77.1" font-size="10.5" fill="#3a3a3a" stroke="#3a3a3a" stroke-width="0.45" textLength="29" lengthAdjust="spacingAndGlyphs">BAÑO</text>
<text x="396.7" y="173.8" font-size="10.5" fill="#3a3a3a" stroke="#3a3a3a" stroke-width="0.45" textLength="28.3" lengthAdjust="spacingAndGlyphs">BAÑO</text>
<text x="161.7" y="224.9" font-size="10.5" fill="#3a3a3a" stroke="#3a3a3a" stroke-width="0.45" textLength="68.8" lengthAdjust="spacingAndGlyphs">DORMITORIO</text>
<text x="252.1" y="442.5" font-size="10.5" fill="#3a3a3a" stroke="#3a3a3a" stroke-width="0.45" textLength="44" lengthAdjust="spacingAndGlyphs">BALCÓN</text>
<text x="452" y="424.6" font-size="10.5" fill="#3a3a3a" stroke="#3a3a3a" stroke-width="0.45" textLength="35.5" lengthAdjust="spacingAndGlyphs">LIVING</text>
<text x="452" y="437.7" font-size="10.5" fill="#3a3a3a" stroke="#3a3a3a" stroke-width="0.45" textLength="54.5" lengthAdjust="spacingAndGlyphs">COMEDOR</text>
<text x="581.3" y="469.9" font-size="10.5" fill="#3a3a3a" stroke="#3a3a3a" stroke-width="0.45" textLength="42" lengthAdjust="spacingAndGlyphs">COCINA</text>
<path d="M603.7,323.65 L612.0,298.25 L620.8,298.25 L629.1,323.65 L622.4,323.65 L620.65,318.3 L612.15,318.3 L610.4,323.65 Z M616.4,305.4 L619.35,314.4 L613.45,314.4 Z" fill="#2e3039" fill-rule="evenodd" stroke="#2e3039" stroke-width="0.3"/>
</svg>
</body></html>
